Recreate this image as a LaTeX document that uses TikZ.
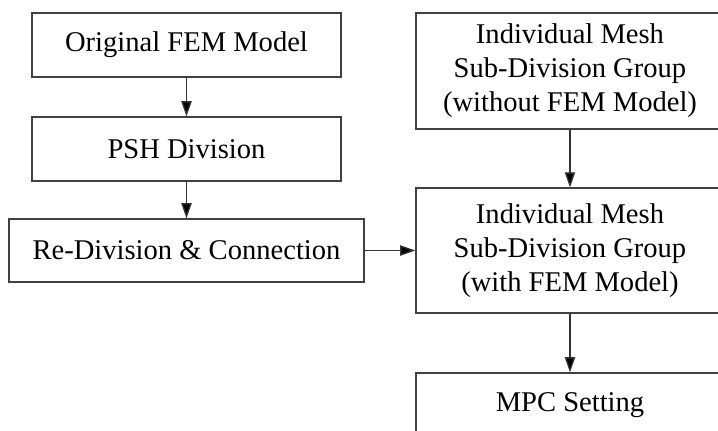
\documentclass[tikz,border=0pt]{standalone}
\usepackage{fontspec}
\setmainfont{Liberation Serif}
\usetikzlibrary{arrows.meta,positioning}

\begin{document}
\begin{tikzpicture}[x=0.35pt,y=-0.35pt,
  box/.style={draw=black!75,line width=0.45pt,align=center,inner sep=0pt,
    font=\fontsize{10}{11.9}\selectfont},
  flow/.style={draw=black!80,line width=0.45pt,-{Triangle[length=5.3pt,width=3.6pt]}}]
\useasboundingbox (0,0) rectangle (718,431);
% left column
\node[box,minimum width=108.2pt,minimum height=22.4pt] (orig) at (186.5,45) {Original FEM Model};
\node[box,minimum width=108.2pt,minimum height=22.4pt] (psh) at (186.5,149) {PSH Division};
\node[box,minimum width=124.3pt,minimum height=22.1pt] (redv) at (186.5,250.5) {Re-Division \& Connection};
% right column
\node[box,minimum width=107.8pt,minimum height=40.6pt] (nofem) at (570,71) {Individual Mesh\\Sub-Division Group\\(without FEM Model)};
\node[box,minimum width=107.8pt,minimum height=43.7pt] (withfem) at (570,250.5) {Individual Mesh\\Sub-Division Group\\(with FEM Model)};
\node[box,minimum width=107.8pt,minimum height=22.4pt] (mpc) at (570,405) {MPC Setting};
\path[flow]
(orig) edge (psh)
(psh) edge (redv)
(redv) edge (withfem)
(nofem) edge (withfem)
(withfem) edge (mpc)
;
\end{tikzpicture}
\end{document}
